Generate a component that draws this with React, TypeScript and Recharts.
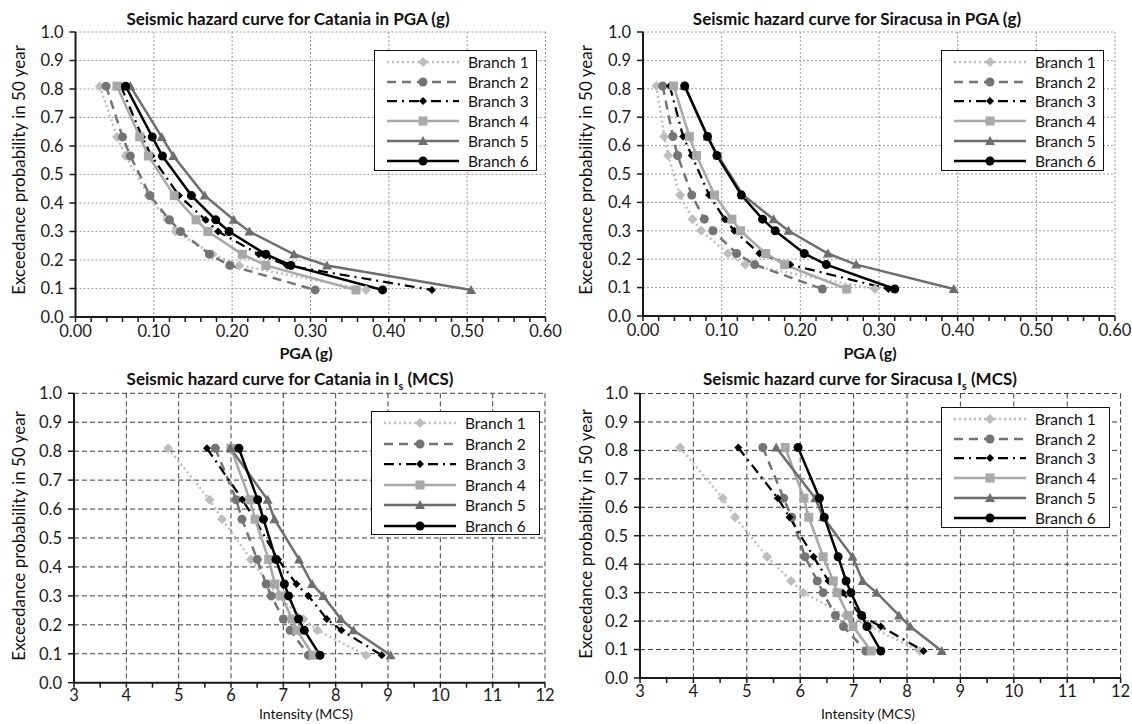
import React from 'react';
import { LineChart, Line, XAxis, YAxis, CartesianGrid } from 'recharts';

// exceedance probability levels shared by every branch
const PROB = [0.81, 0.632, 0.565, 0.426, 0.341, 0.3, 0.22, 0.181, 0.095];

// PGA (g) per branch - Catania
const cataniaPga = [
  [0.031, 0.053, 0.064, 0.093, 0.117, 0.128, 0.175, 0.209, 0.371],
  [0.039, 0.06, 0.07, 0.095, 0.12, 0.134, 0.171, 0.197, 0.306],
  [0.058, 0.085, 0.097, 0.132, 0.166, 0.182, 0.234, 0.27, 0.455],
  [0.053, 0.082, 0.093, 0.126, 0.154, 0.169, 0.213, 0.243, 0.358],
  [0.07, 0.11, 0.125, 0.165, 0.202, 0.222, 0.279, 0.321, 0.505],
  [0.064, 0.098, 0.111, 0.148, 0.179, 0.196, 0.243, 0.275, 0.392],
];

// PGA (g) per branch - Siracusa
const siracusaPga = [
  [0.017, 0.027, 0.032, 0.047, 0.063, 0.074, 0.108, 0.13, 0.295],
  [0.025, 0.038, 0.044, 0.062, 0.078, 0.089, 0.119, 0.142, 0.228],
  [0.034, 0.051, 0.062, 0.084, 0.104, 0.116, 0.148, 0.187, 0.312],
  [0.039, 0.059, 0.068, 0.091, 0.113, 0.124, 0.156, 0.18, 0.259],
  [0.053, 0.082, 0.095, 0.127, 0.166, 0.185, 0.235, 0.271, 0.395],
  [0.053, 0.082, 0.094, 0.125, 0.152, 0.168, 0.205, 0.233, 0.32],
];

// Intensity (MCS) per branch - Catania
const cataniaMcs = [
  [4.8, 5.59, 5.83, 6.38, 6.72, 6.9, 7.38, 7.65, 8.58],
  [5.7, 6.1, 6.21, 6.5, 6.67, 6.77, 7.0, 7.13, 7.48],
  [5.54, 6.22, 6.45, 6.9, 7.25, 7.48, 7.83, 8.11, 8.88],
  [6.0, 6.36, 6.46, 6.72, 6.84, 6.96, 7.17, 7.26, 7.57],
  [5.99, 6.7, 6.83, 7.3, 7.55, 7.76, 8.1, 8.34, 9.05],
  [6.15, 6.51, 6.62, 6.86, 7.02, 7.1, 7.29, 7.4, 7.7],
];

// Intensity (MCS) per branch - Siracusa
const siracusaMcs = [
  [3.75, 4.55, 4.78, 5.38, 5.83, 6.06, 6.85, 7.3, 8.24],
  [5.3, 5.69, 5.84, 6.09, 6.32, 6.43, 6.66, 6.81, 7.23],
  [4.84, 5.58, 5.8, 6.25, 6.53, 6.8, 7.13, 7.51, 8.31],
  [5.72, 6.07, 6.16, 6.43, 6.62, 6.69, 6.9, 6.99, 7.33],
  [5.55, 6.28, 6.43, 6.98, 7.17, 7.43, 7.85, 8.06, 8.65],
  [5.96, 6.36, 6.45, 6.71, 6.86, 6.95, 7.15, 7.25, 7.51],
];

const BRANCHES = ['Branch 1', 'Branch 2', 'Branch 3', 'Branch 4', 'Branch 5', 'Branch 6'];
const Y_TICKS = [0, 0.1, 0.2, 0.3, 0.4, 0.5, 0.6, 0.7, 0.8, 0.9, 1.0];
const PGA_TICKS = [0, 0.1, 0.2, 0.3, 0.4, 0.5, 0.6];
const MCS_TICKS = [3, 4, 5, 6, 7, 8, 9, 10, 11, 12];

const FONT = "Lato, 'Open Sans', sans-serif";

const STYLES = [
  { color: '#bdbdbd', dash: '2 3', width: 2.5, shape: 'diamond' },
  { color: '#747474', dash: '9 6', width: 2.5, shape: 'circle' },
  { color: '#000000', dash: '10 5 2 5', width: 2.25, shape: 'smallDiamond' },
  { color: '#a8a8a8', dash: undefined, width: 2.5, shape: 'square' },
  { color: '#6e6e6e', dash: undefined, width: 2.5, shape: 'triangle' },
  { color: '#000000', dash: undefined, width: 2.5, shape: 'circle' },
];

function Marker({ shape, cx, cy, color }: any) {
  if (cx == null || cy == null) return null;
  if (shape === 'diamond') {
    return <polygon points={`${cx},${cy - 5} ${cx + 5},${cy} ${cx},${cy + 5} ${cx - 5},${cy}`} fill={color} />;
  }
  if (shape === 'smallDiamond') {
    return <polygon points={`${cx},${cy - 4} ${cx + 4},${cy} ${cx},${cy + 4} ${cx - 4},${cy}`} fill={color} />;
  }
  if (shape === 'square') {
    return <rect x={cx - 4.5} y={cy - 4.5} width={9} height={9} fill={color} />;
  }
  if (shape === 'triangle') {
    return <polygon points={`${cx},${cy - 5} ${cx + 5},${cy + 4} ${cx - 5},${cy + 4}`} fill={color} />;
  }
  return <circle cx={cx} cy={cy} r={4.5} fill={color} />;
}

function LegendBox({ left, top, width, height, gap }: any) {
  return (
    <div
      style={{
        position: 'absolute', left, top, width, height, boxSizing: 'border-box',
        border: '1.5px solid #111', background: '#fff', fontFamily: FONT, fontSize: 15.5, color: '#111',
      }}
    >
      {BRANCHES.map((name, i) => {
        const s = STYLES[i];
        return (
          <div key={name} style={{ position: 'absolute', left: 10, top: 1 + i * gap, height: gap, display: 'flex', alignItems: 'center' }}>
            <svg width={76} height={14} style={{ marginRight: 7 }}>
              <line x1={2} y1={7} x2={74} y2={7} stroke={s.color} strokeWidth={s.width} strokeDasharray={s.dash} />
              <Marker shape={s.shape} cx={38} cy={7} color={s.color} />
            </svg>
            <span>{name}</span>
          </div>
        );
      })}
    </div>
  );
}

function HazardPanel({ left, top, xs, domain, majors, minorStep, digits, margin, gridDash, gridColor, tickMargin }: any) {
  const minors: number[] = [];
  for (let v = domain[0]; v <= domain[1] + 1e-9; v += minorStep) minors.push(+v.toFixed(3));
  const isMajor = (v: number) => majors.some((m: number) => Math.abs(m - v) < 1e-6);
  return (
    <div style={{ position: 'absolute', left, top }}>
      <LineChart width={566} height={362} margin={margin}>
        <CartesianGrid
          stroke={gridColor}
          strokeDasharray={gridDash}
          verticalCoordinatesGenerator={({ xAxis, offset }: any) =>
            majors.map((v: number) =>
              xAxis && typeof xAxis.scale === 'function'
                ? xAxis.scale(v)
                : offset.left + ((v - domain[0]) / (domain[1] - domain[0])) * offset.width
            )
          }
        />
        <XAxis
          type="number"
          dataKey="x"
          domain={domain}
          ticks={minors}
          interval={0}
          allowDataOverflow
          tickFormatter={(v: number) => (isMajor(v) ? v.toFixed(digits) : '')}
          tickSize={5}
          tickMargin={tickMargin}
          height={30}
          axisLine={{ stroke: '#1a1a1a', strokeWidth: 2 }}
          tickLine={{ stroke: '#1a1a1a', strokeWidth: 1.5 }}
          tick={{ fill: '#1a1a1a', fontSize: 16.5, fontFamily: FONT }}
        />
        <YAxis
          type="number"
          domain={[0, 1]}
          ticks={Y_TICKS}
          interval={0}
          width={50}
          tickFormatter={(v: number) => v.toFixed(1)}
          tickSize={6}
          tickMargin={6}
          axisLine={{ stroke: '#1a1a1a', strokeWidth: 2 }}
          tickLine={{ stroke: '#1a1a1a', strokeWidth: 1.5 }}
          tick={{ fill: '#1a1a1a', fontSize: 16.5, fontFamily: FONT }}
        />
        {xs.map((row: number[], i: number) => {
          const s = STYLES[i];
          const series = row.map((x, k) => ({ x, p: PROB[k] }));
          return (
            <Line
              key={BRANCHES[i]}
              name={BRANCHES[i]}
              data={series}
              dataKey="p"
              type="linear"
              stroke={s.color}
              strokeWidth={s.width}
              strokeDasharray={s.dash}
              isAnimationActive={false}
              activeDot={false}
              dot={(p: any) => <Marker key={`${i}-${p.index}`} shape={s.shape} cx={p.cx} cy={p.cy} color={s.color} />}
            />
          );
        })}
      </LineChart>
    </div>
  );
}

const textBase: React.CSSProperties = { position: 'absolute', fontFamily: FONT, color: '#111', whiteSpace: 'nowrap' };

function Title({ cx, cy, children, bold = true, size = 17 }: any) {
  return (
    <div style={{ ...textBase, left: cx, top: cy, transform: 'translate(-50%, -50%)', fontWeight: bold ? 700 : 400, fontSize: size, lineHeight: 1.1 }}>
      {children}
    </div>
  );
}

function YTitle({ cx, cy }: any) {
  return (
    <div style={{ ...textBase, left: cx, top: cy, transform: 'translate(-50%, -50%) rotate(-90deg)', fontSize: 17 }}>
      Exceedance probability in 50 year
    </div>
  );
}

export default function App() {
  return (
    <div style={{ position: 'absolute', left: 0, top: 0, width: 1132, height: 724, background: '#fff', overflow: 'hidden' }}>
      <HazardPanel
        left={0} top={0} xs={cataniaPga} domain={[0, 0.6]} majors={PGA_TICKS} minorStep={0.02} digits={2}
        margin={{ top: 32, right: 20.5, bottom: 15, left: 25.5 }} gridDash="2 2" gridColor="#9a9a9a" tickMargin={3}
      />
      <HazardPanel
        left={566} top={0} xs={siracusaPga} domain={[0, 0.6]} majors={PGA_TICKS} minorStep={0.02} digits={2}
        margin={{ top: 32, right: 17, bottom: 16, left: 27 }} gridDash="2 2" gridColor="#9a9a9a" tickMargin={3}
      />
      <HazardPanel
        left={0} top={362} xs={cataniaMcs} domain={[3, 12]} majors={MCS_TICKS} minorStep={0.5} digits={0}
        margin={{ top: 31.3, right: 21, bottom: 11.3, left: 24 }} gridDash="5 3" gridColor="#3c3c3c" tickMargin={2}
      />
      <HazardPanel
        left={566} top={362} xs={siracusaMcs} domain={[3, 12]} majors={MCS_TICKS} minorStep={0.5} digits={0}
        margin={{ top: 31.5, right: 11.4, bottom: 16, left: 24 }} gridDash="5 3" gridColor="#3c3c3c" tickMargin={2}
      />

      <Title cx={288} cy={19}>Seismic hazard curve for Catania in PGA (g)</Title>
      <Title cx={857} cy={19}>Seismic hazard curve for Siracusa in PGA (g)</Title>
      <Title cx={290} cy={381}>Seismic hazard curve for Catania in I<sub style={{ fontSize: 11 }}>s</sub> (MCS)</Title>
      <Title cx={860} cy={381}>Seismic hazard curve for Siracusa I<sub style={{ fontSize: 11 }}>s</sub> (MCS)</Title>

      <Title cx={306} cy={353} size={16}>PGA (g)</Title>
      <Title cx={870} cy={353} size={16}>PGA (g)</Title>
      <Title cx={306} cy={714} bold={false} size={14}>Intensity (MCS)</Title>
      <Title cx={868} cy={714} bold={false} size={14}>Intensity (MCS)</Title>

      <YTitle cx={18} cy={170} />
      <YTitle cx={585} cy={170} />
      <YTitle cx={18} cy={536} />
      <YTitle cx={585} cy={534} />

      <LegendBox left={374} top={50} width={163} height={121} gap={19.8} />
      <LegendBox left={941} top={50} width={163} height={121} gap={19.8} />
      <LegendBox left={371} top={411} width={169} height={124} gap={20.5} />
      <LegendBox left={941} top={407} width={169} height={121} gap={19.8} />
    </div>
  );
}
